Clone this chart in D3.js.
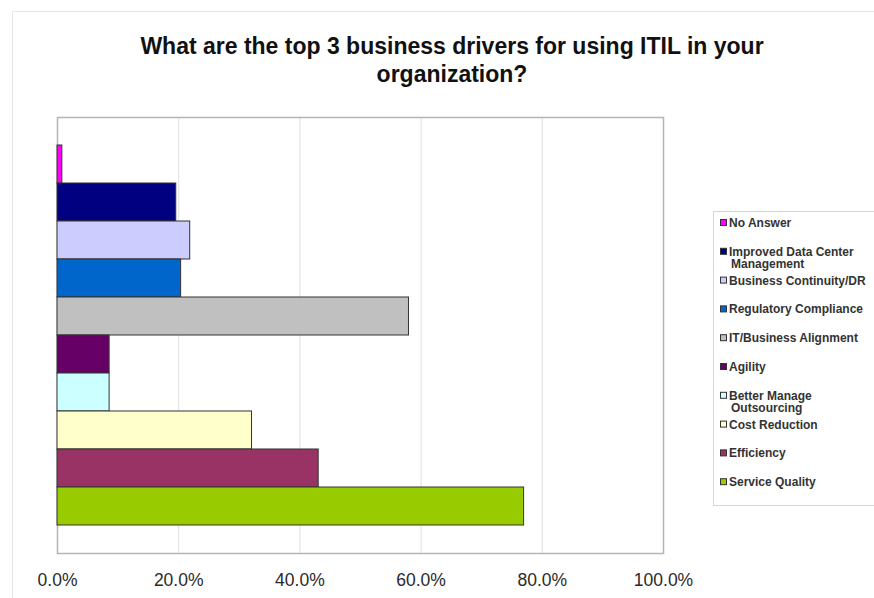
<!DOCTYPE html>
<html>
<head>
<meta charset="utf-8">
<script src="https://cdn.jsdelivr.net/npm/d3@7"></script>
<style>
  body { margin: 0; background: #fff; }
  svg { display: block; font-family: "Liberation Sans", Arial, sans-serif; }
</style>
</head>
<body>
<svg id="chart" width="874" height="598"></svg>
<script>
// series, top to bottom as drawn
const categories = ['No Answer', 'Improved Data Center Management', 'Business Continuity/DR',
    'Regulatory Compliance', 'IT/Business Alignment', 'Agility', 'Better Manage Outsourcing',
    'Cost Reduction', 'Efficiency', 'Service Quality'];
const values = [0.8, 19.6, 21.9, 20.4, 58.0, 8.6, 8.6, 32.1, 43.1, 77.0];
const colors = ['#ff00ff', '#000080', '#ccccff', '#0066cc', '#c0c0c0', '#660066', '#ccffff',
    '#ffffcc', '#993366', '#99cc00'];
// legend labels wrap like the original
const legendLines = [['No Answer'], ['Improved Data Center', 'Management'], ['Business Continuity/DR'],
    ['Regulatory Compliance'], ['IT/Business Alignment'], ['Agility'], ['Better Manage', 'Outsourcing'],
    ['Cost Reduction'], ['Efficiency'], ['Service Quality']];
const xTicks = [0, 20, 40, 60, 80, 100];

const svg = d3.select('#chart');
const plot = {left: 57, right: 663, top: 117, bottom: 553};

// faint outer chart border
svg.append('rect')
    .attr('x', 12.5).attr('y', 11.5)
    .attr('width', 900).attr('height', 700)
    .attr('fill', 'none').attr('stroke', '#e6e6e6');

svg.append('text')
    .attr('x', 452).attr('text-anchor', 'middle')
    .attr('font-size', 23).attr('font-weight', 'bold').attr('fill', '#111')
    .selectAll('tspan')
    .data(['What are the top 3 business drivers for using ITIL in your', 'organization?'])
    .join('tspan')
    .attr('x', 452)
    .attr('y', (d, i) => 54 + i * 28)
    .text(d => d);

let xScale = d3.scaleLinear().domain([0, 100]).range([plot.left, plot.right]);
let yScale = d3.scaleBand().domain(categories)
    .range([plot.top, plot.bottom])
    .paddingInner(0).paddingOuter(0.737);

// gridlines
svg.append('g').classed('grid', true)
    .selectAll('line').data(xTicks.slice(1, -1))
    .join('line')
    .attr('x1', d => xScale(d) + 0.5).attr('x2', d => xScale(d) + 0.5)
    .attr('y1', plot.top).attr('y2', plot.bottom)
    .attr('stroke', '#e0e0e0');

// plot frame
svg.append('rect')
    .attr('x', plot.left + 0.5).attr('y', plot.top + 0.5)
    .attr('width', plot.right - plot.left).attr('height', plot.bottom - plot.top)
    .attr('fill', 'none').attr('stroke', '#b4b4b4').attr('stroke-width', 1.5);

svg.append('g').classed('bars', true)
    .selectAll('rect').data(categories)
    .join('rect')
    .attr('x', xScale(0))
    .attr('y', d => yScale(d))
    .attr('width', (d, i) => xScale(values[i]) - xScale(0))
    .attr('height', yScale.bandwidth())
    .attr('fill', (d, i) => colors[i])
    .attr('stroke', '#333')
    .attr('stroke-width', 1);

let xAxis = d3.axisBottom(xScale)
    .tickValues(xTicks)
    .tickFormat(d => d.toFixed(1) + '%')
    .tickSize(0).tickPadding(21);
let axisG = svg.append('g').attr('transform', 'translate(0,' + plot.bottom + ')').call(xAxis);
axisG.select('.domain').remove();
axisG.selectAll('text')
    .attr('font-size', 17.5).attr('fill', '#2a2a2a')
    .attr('font-family', '"Liberation Sans", Arial, sans-serif');

// legend
let legend = svg.append('g').classed('legend', true);
legend.append('rect')
    .attr('x', 713.5).attr('y', 211.5)
    .attr('width', 200).attr('height', 294)
    .attr('fill', '#fff').attr('stroke', '#d6d6d6');

let items = legend.selectAll('g.item').data(categories)
    .join('g').classed('item', true)
    .attr('transform', (d, i) => 'translate(720,' + (223 + i * 28.8) + ')');
items.append('rect')
    .attr('x', 0.5).attr('y', -3.5)
    .attr('width', 6).attr('height', 6)
    .attr('fill', (d, i) => colors[i])
    .attr('stroke', '#333');
items.append('text')
    .attr('font-size', 12).attr('font-weight', 'bold').attr('fill', '#333')
    .selectAll('tspan')
    .data((d, i) => legendLines[i])
    .join('tspan')
    .attr('x', (d, j) => j == 0 ? 9 : 11)
    .attr('y', (d, j) => 4 + j * 12.5)
    .text(d => d);
</script>
</body>
</html>
